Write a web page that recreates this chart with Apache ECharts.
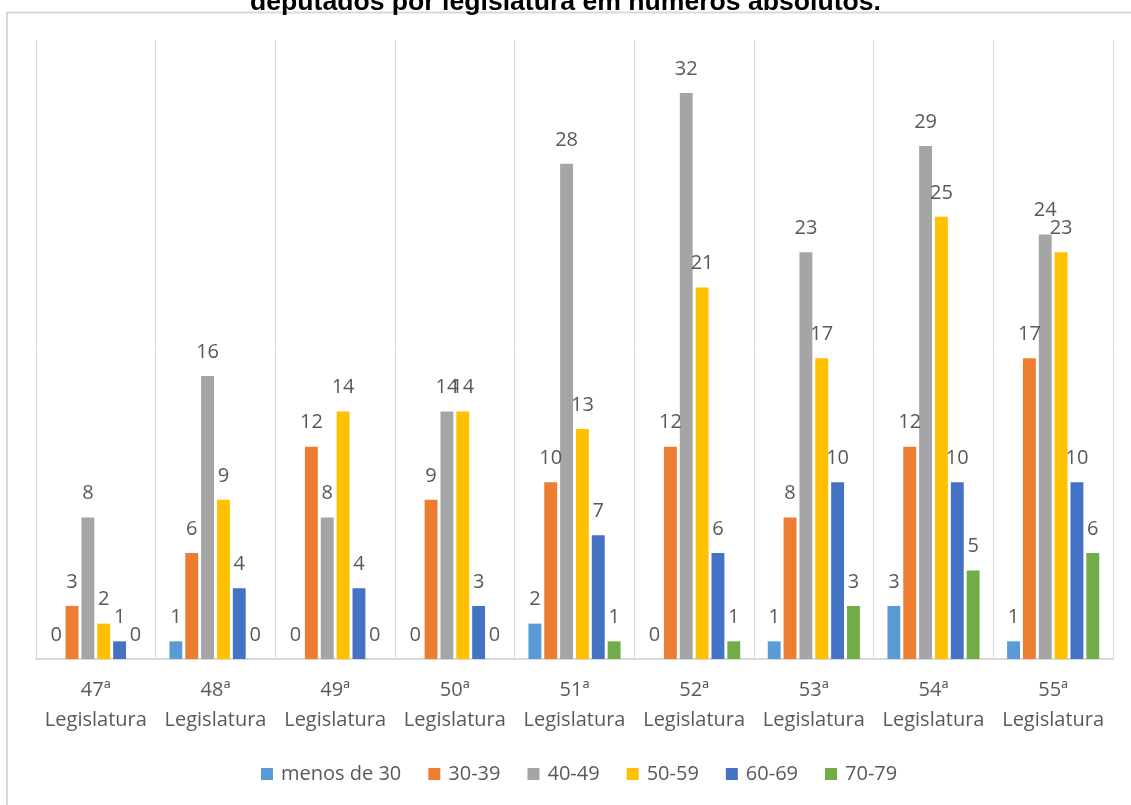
<!DOCTYPE html>
<html>
<head>
<meta charset="utf-8">
<script src="https://cdn.jsdelivr.net/npm/echarts@6/dist/echarts.min.js"></script>
<style>
  html, body { margin: 0; padding: 0; background: #ffffff; }
  #chart { width: 1131px; height: 805px; }
</style>
</head>
<body>
<div id="chart"></div>
<script>
// Deputados por faixa etária em cada legislatura (números absolutos)
const legislaturas = ['47ª', '48ª', '49ª', '50ª', '51ª', '52ª', '53ª', '54ª', '55ª'];
const faixas = ['menos de 30', '30-39', '40-49', '50-59', '60-69', '70-79'];

const menosDe30 = [0, 1, 0, 0, 2, 0, 1, 3, 1];
const de30a39   = [3, 6, 12, 9, 10, 12, 8, 12, 17];
const de40a49   = [8, 16, 8, 14, 28, 32, 23, 29, 24];
const de50a59   = [2, 9, 14, 14, 13, 21, 17, 25, 23];
const de60a69   = [1, 4, 4, 3, 7, 6, 10, 10, 10];
const de70a79   = [0, 0, 0, 0, 1, 1, 3, 5, 6];

const valores = [menosDe30, de30a39, de40a49, de50a59, de60a69, de70a79];
const cores = ['#5B9BD5', '#ED7D31', '#A5A5A5', '#FFC000', '#4472C4', '#70AD47'];

const categorias = legislaturas.map(l => l + '\nLegislatura');
const textColor = '#595959';
const fonte = "'Open Sans', 'Noto Sans', sans-serif";

const chart = echarts.init(document.getElementById('chart'), null, { renderer: 'canvas' });

chart.setOption({
  backgroundColor: '#ffffff',
  animation: false,
  color: cores,
  title: {
    text: 'deputados por legislatura em números absolutos.',
    left: 'center',
    top: -15.5,
    textStyle: {
      fontFamily: "'Liberation Sans', Arial, sans-serif",
      fontWeight: 'bold',
      fontSize: 26.6,
      color: '#000000'
    }
  },
  graphic: [{
    type: 'rect',
    shape: { x: 7, y: 12.5, width: 1300, height: 1000 },
    style: { fill: 'none', stroke: '#D9D9D9', lineWidth: 2 },
    z: -10
  }],
  legend: {
    data: faixas,
    left: 261,
    top: 764,
    padding: 0,
    itemWidth: 12,
    itemHeight: 12,
    itemGap: 27,
    icon: 'rect',
    textStyle: {
      color: textColor,
      fontFamily: fonte,
      fontSize: 20,
      lineHeight: 20,
      padding: [0, 0, 0, 3]
    }
  },
  grid: {
    left: 36,
    right: 18,
    top: 40,
    bottom: 146
  },
  xAxis: {
    type: 'category',
    data: categorias,
    boundaryGap: true,
    axisTick: { show: false },
    axisLine: { lineStyle: { color: '#D9D9D9', width: 2 } },
    splitLine: { show: true, lineStyle: { color: '#D9D9D9', width: 1 } },
    axisLabel: {
      color: textColor,
      fontFamily: fonte,
      fontSize: 20,
      lineHeight: 30,
      margin: 16,
      interval: 0
    }
  },
  yAxis: {
    type: 'value',
    min: 0,
    max: 35,
    show: false,
    splitLine: { show: false }
  },
  series: faixas.map((nome, i) => ({
    name: nome,
    type: 'bar',
    data: valores[i],
    barGap: '23%',
    barCategoryGap: '23%',
    label: {
      show: true,
      position: 'top',
      distance: 14,
      color: textColor,
      fontFamily: fonte,
      fontSize: 20
    }
  }))
});
</script>
</body>
</html>
